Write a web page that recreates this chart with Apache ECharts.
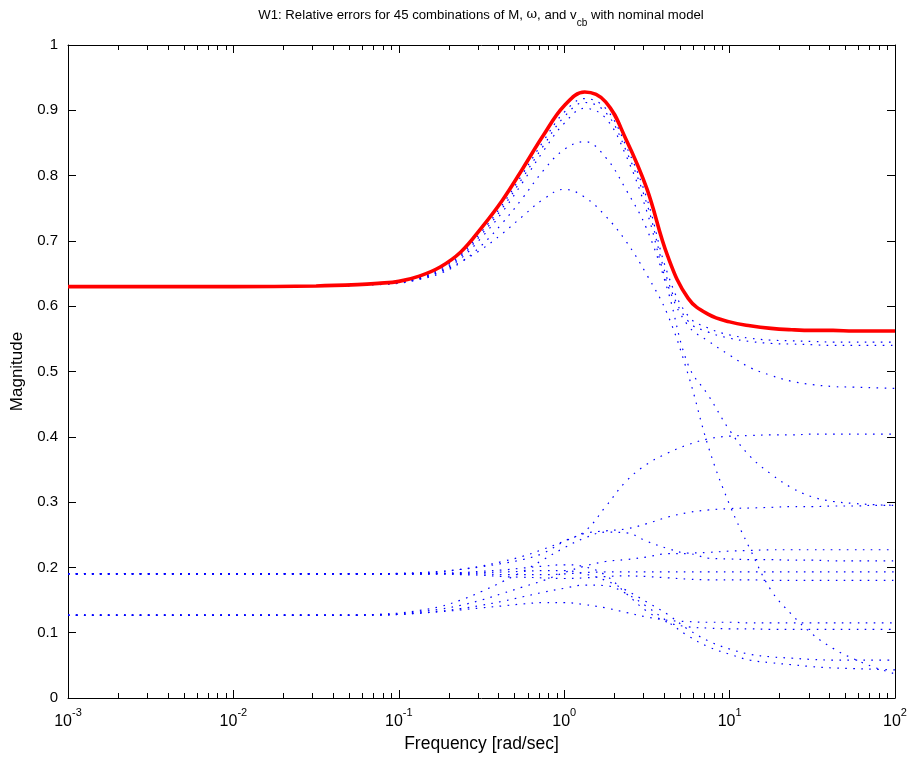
<!DOCTYPE html>
<html>
<head>
<meta charset="utf-8">
<script src="https://cdn.jsdelivr.net/npm/echarts@6/dist/echarts.min.js"></script>
<style>html,body{margin:0;padding:0;background:#fff;}#c{width:912px;height:759px;}</style>
</head>
<body>
<div id="c"></div>
<script>
const freq = [0.001, 0.01, 0.0316, 0.0562, 0.075, 0.1, 0.133, 0.178, 0.237, 0.316, 0.422, 0.562, 0.75, 1, 1.33, 1.78, 2.37, 3.16, 4.22, 5.62, 7.5, 10, 13.3, 17.8, 23.7, 31.6, 42.2, 56.2, 75, 100];

// Nominal model (red)
const nominal = [0.630,0.630,0.631,0.633,0.635,0.638,0.646,0.660,0.683,0.720,0.762,0.811,0.862,0.907,0.928,0.913,0.855,0.780,0.677,0.612,0.587,0.576,0.570,0.566,0.564,0.563,0.563,0.562,0.562,0.562];

// Perturbed combinations (blue dotted)
const combA  = [0.630,0.630,0.631,0.632,0.634,0.637,0.644,0.657,0.679,0.714,0.755,0.803,0.853,0.897,0.918,0.903,0.845,0.765,0.650,0.585,0.566,0.556,0.551,0.548,0.547,0.546,0.545,0.545,0.545,0.545];
const combB  = [0.630,0.630,0.631,0.632,0.634,0.636,0.643,0.655,0.676,0.710,0.750,0.797,0.846,0.890,0.912,0.897,0.838,0.757,0.640,0.577,0.560,0.551,0.546,0.543,0.542,0.541,0.540,0.540,0.540,0.540];
const combC  = [0.630,0.630,0.631,0.632,0.634,0.636,0.642,0.653,0.673,0.705,0.744,0.790,0.838,0.880,0.903,0.888,0.830,0.745,0.633,0.570,0.546,0.525,0.506,0.494,0.485,0.480,0.477,0.476,0.475,0.474];
const combE  = [0.630,0.630,0.631,0.632,0.633,0.635,0.641,0.650,0.667,0.693,0.727,0.766,0.808,0.840,0.852,0.828,0.778,0.718,0.625,0.510,0.462,0.410,0.370,0.343,0.322,0.308,0.301,0.298,0.296,0.295];
const combD  = [0.630,0.630,0.631,0.632,0.634,0.636,0.643,0.652,0.668,0.687,0.711,0.738,0.764,0.779,0.767,0.738,0.699,0.648,0.587,0.495,0.382,0.296,0.228,0.165,0.128,0.098,0.076,0.060,0.047,0.037];
const combG  = [0.190,0.190,0.190,0.190,0.190,0.191,0.192,0.194,0.197,0.201,0.206,0.212,0.222,0.240,0.255,0.293,0.332,0.358,0.375,0.388,0.397,0.401,0.402,0.403,0.403,0.404,0.404,0.404,0.404,0.404];
const combH  = [0.190,0.190,0.190,0.190,0.190,0.190,0.191,0.193,0.197,0.202,0.209,0.217,0.228,0.240,0.252,0.256,0.259,0.267,0.277,0.284,0.288,0.290,0.291,0.292,0.293,0.293,0.294,0.294,0.295,0.295];
const combK1 = [0.127,0.127,0.127,0.127,0.128,0.130,0.134,0.140,0.150,0.163,0.178,0.194,0.212,0.230,0.245,0.254,0.253,0.240,0.229,0.222,0.223,0.225,0.226,0.227,0.227,0.227,0.227,0.227,0.227,0.227];
const combK2 = [0.127,0.127,0.127,0.127,0.128,0.129,0.132,0.136,0.142,0.150,0.160,0.170,0.180,0.192,0.202,0.209,0.212,0.216,0.221,0.221,0.214,0.213,0.212,0.212,0.211,0.211,0.210,0.210,0.210,0.210];
const combM3 = [0.190,0.190,0.190,0.190,0.190,0.190,0.190,0.190,0.190,0.190,0.189,0.189,0.189,0.190,0.192,0.193,0.193,0.193,0.193,0.193,0.193,0.193,0.193,0.193,0.193,0.193,0.193,0.193,0.193,0.193];
const combM4 = [0.190,0.190,0.190,0.190,0.190,0.190,0.190,0.190,0.189,0.188,0.186,0.185,0.184,0.183,0.184,0.186,0.187,0.186,0.184,0.182,0.181,0.181,0.181,0.180,0.180,0.180,0.180,0.180,0.180,0.180];
const combP  = [0.190,0.190,0.190,0.190,0.190,0.190,0.190,0.191,0.192,0.194,0.196,0.199,0.202,0.204,0.201,0.188,0.160,0.133,0.116,0.109,0.107,0.106,0.106,0.105,0.105,0.105,0.105,0.105,0.105,0.105];
const combL  = [0.127,0.127,0.127,0.127,0.127,0.128,0.130,0.132,0.135,0.138,0.141,0.144,0.146,0.146,0.143,0.138,0.131,0.124,0.119,0.117,0.116,0.116,0.115,0.115,0.115,0.115,0.115,0.115,0.115,0.115];
const combN1 = [0.190,0.190,0.190,0.190,0.190,0.190,0.190,0.190,0.191,0.192,0.193,0.194,0.195,0.195,0.190,0.180,0.165,0.147,0.128,0.105,0.087,0.075,0.067,0.063,0.061,0.059,0.058,0.058,0.058,0.058];
const combN2 = [0.127,0.127,0.127,0.127,0.127,0.128,0.130,0.133,0.137,0.142,0.148,0.155,0.162,0.168,0.173,0.172,0.160,0.140,0.117,0.095,0.078,0.067,0.058,0.054,0.051,0.048,0.046,0.045,0.044,0.043];

const perturbed = [combA, combB, combC, combE, combD, combG, combH, combK1, combK2, combM3, combM4, combP, combL, combN1, combN2];

// Axis ticks
const yTicks = [0, 0.1, 0.2, 0.3, 0.4, 0.5, 0.6, 0.7, 0.8, 0.9, 1];
const decades = [0.001, 0.01, 0.1, 1, 10];
const minorTicks = [];
decades.forEach(d => { for (let k = 2; k <= 9; k++) minorTicks.push(+(d * k).toPrecision(3)); });

const FONT = 'Liberation Sans, Arial, Helvetica, sans-serif';

function pairs(vals) { return freq.map((f, i) => [f, vals[i]]); }

const series = [];
perturbed.forEach(v => {
  series.push({
    type: 'line', data: pairs(v), xAxisIndex: 0, yAxisIndex: 0,
    showSymbol: false, symbol: 'none', smooth: 0.4, z: 3,
    lineStyle: { color: '#0000ff', width: 1.2, type: [1.6, 6.4] },
    silent: true
  });
});
series.push({
  type: 'line', data: pairs(nominal), xAxisIndex: 0, yAxisIndex: 0,
  showSymbol: false, symbol: 'none', smooth: 0.4, z: 5,
  lineStyle: { color: '#ff0000', width: 3.6 }, silent: true
});
series.push({
  type: 'custom', xAxisIndex: 0, yAxisIndex: 0, silent: true, z: 6,
  data: minorTicks.map(v => [v, 0]),
  encode: { x: 0, y: 1 },
  clip: false,
  renderItem: function (params, api) {
    const v = api.value(0);
    const b = api.coord([v, 0]);
    const t = api.coord([v, 1]);
    const x = Math.round(b[0]) + 0.5;
    return {
      type: 'group', children: [
        { type: 'line', shape: { x1: x, y1: b[1], x2: x, y2: b[1] - 5 }, style: { stroke: '#000', lineWidth: 1 } },
        { type: 'line', shape: { x1: x, y1: t[1], x2: x, y2: t[1] + 5 }, style: { stroke: '#000', lineWidth: 1 } }
      ]
    };
  }
});

function xFmt(value) {
  const e = Math.round(Math.log10(value));
  return '{b|10}{s|' + e + '}';
}

const axisCommon = {
  axisLine: { show: true, onZero: false, lineStyle: { color: '#000', width: 1 } },
  axisTick: { show: true, inside: true, length: 8, lineStyle: { color: '#000', width: 1 } },
  splitLine: { show: false }
};

const chart = echarts.init(document.getElementById('c'), null, { renderer: 'canvas' });
chart.setOption({
  animation: false,
  backgroundColor: '#ffffff',
  textStyle: { fontFamily: FONT },
  title: {
    text: '{a|W1: Relative errors for 45 combinations of M, }{w|ω}{a|, and v}{s|cb}{a| with nominal model}',
    left: 476, top: 5, textAlign: 'center',
    textStyle: {
      fontWeight: 'normal',
      rich: {
        a: { fontFamily: FONT, fontSize: 13.2, fontWeight: 'normal', color: '#000', lineHeight: 16, padding: [0, 0, 6, 0] },
        w: { fontFamily: 'DejaVu Serif, serif', fontSize: 13, fontWeight: 'normal', color: '#000', lineHeight: 16, padding: [0, 0, 6, 0] },
        s: { fontFamily: FONT, fontSize: 10, fontWeight: 'normal', color: '#000', lineHeight: 12, padding: [10, 0, 0, 0] }
      }
    }
  },
  grid: { left: 68, right: 17, top: 45, bottom: 61, show: false },
  xAxis: [
    Object.assign({}, axisCommon, {
      type: 'log', logBase: 10, min: 0.001, max: 100, position: 'bottom',
      axisLabel: {
        formatter: xFmt, margin: 12, color: '#000',
        rich: {
          b: { fontFamily: FONT, fontSize: 16, color: '#000', lineHeight: 17, padding: [7, 0, 0, 0] },
          s: { fontFamily: FONT, fontSize: 11, color: '#000', lineHeight: 12, padding: [0, 0, 12, 0] }
        }
      },
      name: 'Frequency [rad/sec]', nameLocation: 'middle', nameGap: 35,
      nameTextStyle: { fontFamily: FONT, fontSize: 17.5, color: '#000' }
    }),
    Object.assign({}, axisCommon, {
      type: 'log', logBase: 10, min: 0.001, max: 100, position: 'top',
      axisLabel: { show: false }
    })
  ],
  yAxis: [
    Object.assign({}, axisCommon, {
      type: 'value', min: yTicks[0], max: yTicks[yTicks.length - 1], interval: 0.1, position: 'left',
      axisLabel: { fontFamily: FONT, fontSize: 15, color: '#000', margin: 10 },
      name: 'Magnitude', nameLocation: 'middle', nameGap: 38, nameRotate: 90,
      nameTextStyle: { fontFamily: FONT, fontSize: 17, color: '#000' }
    }),
    Object.assign({}, axisCommon, {
      type: 'value', min: yTicks[0], max: yTicks[yTicks.length - 1], interval: 0.1, position: 'right',
      axisLabel: { show: false }
    })
  ],
  series: series
});
</script>
</body>
</html>
